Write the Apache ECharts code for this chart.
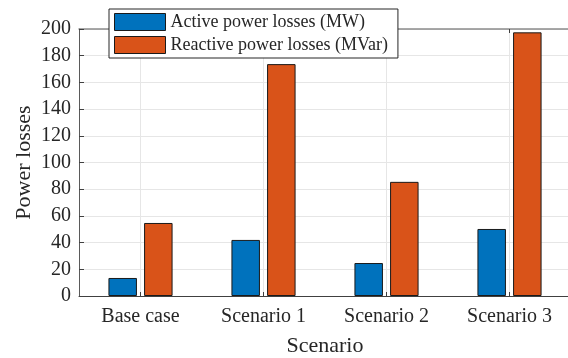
<!DOCTYPE html>
<html>
<head>
<meta charset="utf-8">
<style>
  html, body { margin: 0; padding: 0; background: #fff; }
  #chart { width: 568px; height: 358px; }
</style>
<script src="https://cdn.jsdelivr.net/npm/echarts@6/dist/echarts.min.js"></script>
</head>
<body>
<div id="chart"></div>
<script>
// Scenario categories and loss values
const scenarios = ['Base case', 'Scenario 1', 'Scenario 2', 'Scenario 3'];
const activeLosses = [13.5, 42, 24.7, 50.2];      // MW
const reactiveLosses = [54.7, 173.7, 85.5, 197.5]; // MVar
const yTicks = [0, 20, 40, 60, 80, 100, 120, 140, 160, 180, 200];

const FONT = "'Liberation Serif', 'Times New Roman', serif";
const INK = '#262626';

const chart = echarts.init(document.getElementById('chart'), null, { renderer: 'canvas' });

chart.setOption({
  animation: false,
  backgroundColor: '#ffffff',
  textStyle: { fontFamily: FONT, color: INK },
  grid: { left: 79, top: 29, width: 492, height: 267, containLabel: false, outerBoundsMode: 'none' },
  legend: {
    orient: 'vertical',
    left: 109,
    top: 9,
    padding: [4, 10, 4, 5],
    icon: 'rect',
    itemWidth: 51,
    itemHeight: 17,
    itemGap: 5,
    backgroundColor: '#ffffff',
    borderColor: '#262626',
    borderWidth: 1,
    borderRadius: 0,
    textStyle: { fontFamily: FONT, fontSize: 18, color: INK },
    itemStyle: { borderColor: '#1a1a1a', borderWidth: 1 },
    data: ['Active power losses (MW)', 'Reactive power losses (MVar)']
  },
  xAxis: [
    {
      type: 'category',
      data: scenarios,
      position: 'bottom',
      name: 'Scenario',
      nameLocation: 'middle',
      nameGap: 39,
      nameMoveOverlap: false,
      nameTextStyle: { fontFamily: FONT, fontSize: 22, color: INK },
      axisLine: { lineStyle: { color: '#404040', width: 1 } },
      axisTick: { show: true, inside: true, length: 4, alignWithLabel: true, lineStyle: { color: '#404040' } },
      axisLabel: { margin: 11, fontFamily: FONT, fontSize: 20, color: INK },
      splitLine: { show: true, alignWithLabel: true, lineStyle: { color: '#e6e6e6', width: 1 } }
    },
    {
      type: 'category',
      data: scenarios,
      position: 'top',
      axisLine: { show: true, lineStyle: { color: '#8c8c8c', width: 1.5 } },
      axisTick: { show: true, inside: true, length: 4, alignWithLabel: true, lineStyle: { color: '#404040' } },
      axisLabel: { show: false },
      splitLine: { show: false }
    }
  ],
  yAxis: {
    type: 'value',
    min: 0,
    max: 200,
    interval: 20,
    name: 'Power losses',
    nameLocation: 'middle',
    nameGap: 44,
    nameMoveOverlap: false,
    nameTextStyle: { fontFamily: FONT, fontSize: 22, color: INK },
    axisLine: { show: true, lineStyle: { color: '#5a5a5a', width: 1 } },
    axisTick: { show: true, inside: true, length: 5, lineStyle: { color: '#404040' } },
    axisLabel: {
      margin: 8, fontFamily: FONT, fontSize: 20, color: INK,
      formatter: v => (yTicks.indexOf(v) >= 0 ? String(v) : '')
    },
    splitLine: { show: true, lineStyle: { color: '#e6e6e6', width: 1 } }
  },
  series: [
    {
      name: 'Active power losses (MW)',
      type: 'bar',
      data: activeLosses,
      barWidth: 28.5,
      barGap: '25%',
      itemStyle: { color: '#0072BD', borderColor: '#1a1a1a', borderWidth: 1 }
    },
    {
      name: 'Reactive power losses (MVar)',
      type: 'bar',
      data: reactiveLosses,
      barWidth: 28.5,
      barGap: '25%',
      itemStyle: { color: '#D95319', borderColor: '#1a1a1a', borderWidth: 1 }
    }
  ]
});
</script>
</body>
</html>
